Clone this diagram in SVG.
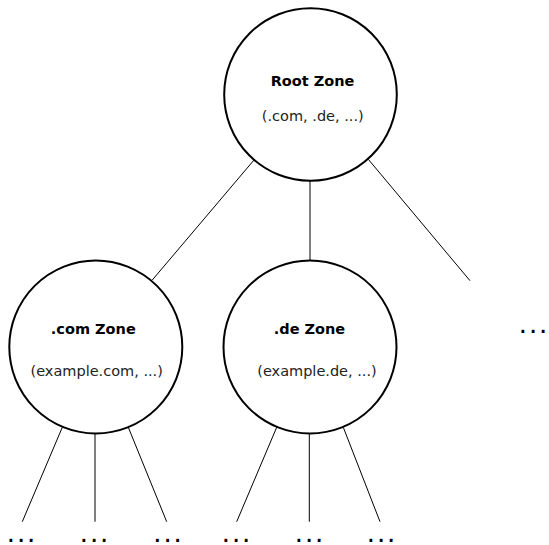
<svg xmlns="http://www.w3.org/2000/svg" width="549" height="545" viewBox="0 0 549 545">
<style>
.zone{fill:#fff;stroke:#000;stroke-width:2}
.title{font-family:"DejaVu Sans",sans-serif;font-weight:bold;font-size:14.5px;fill:#000;text-anchor:middle}
.sub{font-family:"DejaVu Sans",sans-serif;font-size:14.5px;fill:#222;text-anchor:middle}
.dots{font-family:"DejaVu Sans Mono",monospace;font-weight:bold;font-size:17px;fill:#000;text-anchor:middle}
.edge{stroke:#000;stroke-width:1;fill:none}
</style>
<rect width="549" height="545" fill="#fff"/>
<g id="connectors">
<line class="edge" x1="254" y1="160" x2="152.3" y2="280"/>
<line class="edge" x1="310" y1="181" x2="310" y2="261"/>
<line class="edge" x1="368.3" y1="159.3" x2="470" y2="280.7"/>
<line class="edge" x1="62.3" y1="427.3" x2="22.3" y2="521.7"/>
<line class="edge" x1="95" y1="432" x2="95" y2="521.7"/>
<line class="edge" x1="128.3" y1="427.3" x2="166.7" y2="521.7"/>
<line class="edge" x1="276.7" y1="427.3" x2="236.7" y2="521.7"/>
<line class="edge" x1="309.3" y1="432" x2="309.3" y2="521.7"/>
<line class="edge" x1="343.3" y1="427.3" x2="380" y2="521.7"/>
</g>
<g id="root">
<circle class="zone" cx="310.5" cy="94.5" r="86.3"/>
<text class="title" x="312.5" y="86">Root Zone</text>
<text class="sub" x="312.8" y="121">(.com, .de, ...)</text>
</g>
<g id="com">
<circle class="zone" cx="95.8" cy="347" r="86.5"/>
<text class="title" x="93.3" y="334">.com Zone</text>
<text class="sub" x="96.7" y="376">(example.com, ...)</text>
</g>
<g id="de">
<circle class="zone" cx="310" cy="347" r="86.5"/>
<text class="title" x="309.5" y="334">.de Zone</text>
<text class="sub" x="317" y="376">(example.de, ...)</text>
</g>
<g id="more">
<text class="dots" x="533" y="332.5">...</text>
</g>
<g id="leaves">
<text class="dots" x="21" y="541.5">...</text>
<text class="dots" x="94" y="541.5">...</text>
<text class="dots" x="167.5" y="541.5">...</text>
<text class="dots" x="236" y="541.5">...</text>
<text class="dots" x="309" y="541.5">...</text>
<text class="dots" x="381" y="541.5">...</text>
</g>
</svg>
